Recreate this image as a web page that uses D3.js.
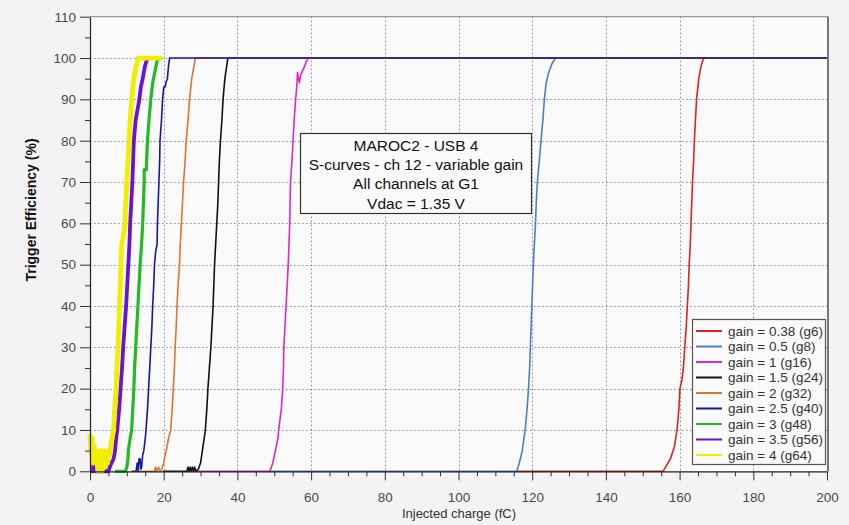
<!DOCTYPE html>
<html>
<head>
<meta charset="utf-8">
<script src="https://cdn.jsdelivr.net/npm/d3@7"></script>
<style>
  html, body { margin: 0; padding: 0; background: #f3f3f3; }
  svg { display: block; }
</style>
</head>
<body>
<svg id="chart" width="849" height="525"></svg>
<script>
// S-curve data: [injected charge (fC), trigger efficiency (%)]
const g6 = [[115.5,0],[155.5,0],[156.2,1],[157.5,3],[158.6,6],[159.3,10],[159.8,15],[160.1,20],[160.6,22],[160.9,24],[161.1,26],[161.4,30],[161.8,35],[162.1,40],[162.4,45],[162.6,50],[162.9,55],[163.1,60],[163.3,65],[163.5,70],[163.8,75],[164.0,80],[164.3,85],[164.6,90],[165.2,95],[165.8,98],[166.5,100],[200,100]];
const g8 = [[49,0],[115.8,0],[116.5,2],[117.3,5],[118.1,10],[118.6,15],[119.0,20],[119.3,25],[119.5,30],[119.7,35],[119.9,40],[120.1,45],[120.3,50],[120.6,55],[120.9,60],[121.1,65],[121.4,70],[121.9,75],[122.4,80],[122.9,85],[123.3,90],[123.8,94],[124.3,96],[125.3,98.5],[126.3,100],[200,100]];
const g16 = [[29,0],[48.8,0],[49.2,1],[49.6,2],[50.3,5],[51.0,8],[51.2,10],[51.9,15],[52.3,20],[52.5,25],[52.6,30],[52.9,35],[53.2,40],[53.5,45],[53.8,50],[54.0,55],[54.2,60],[54.3,65],[54.4,70],[54.8,75],[55.1,80],[55.4,85],[55.8,90],[56.1,93],[56.3,96.5],[56.8,94],[57.2,96],[58.0,97.5],[58.6,99],[59.3,100],[200,100]];
const g24 = [[19.8,0],[26.3,0],[26.6,1],[26.9,0],[27.2,1],[27.5,0],[27.8,1],[28.1,0],[28.4,1],[28.7,0],[29.4,0.5],[30.0,2],[30.5,5],[31.0,8],[31.3,10],[31.7,15],[32.0,20],[32.4,25],[32.8,30],[33.1,35],[33.4,40],[33.6,45],[33.8,50],[34.1,55],[34.4,60],[34.7,65],[34.9,70],[35.1,75],[35.4,80],[35.8,85],[36.1,90],[36.6,95],[37.4,100],[200,100]];
const g32 = [[12.5,0],[17.5,0],[17.8,1],[18.1,0],[18.6,1],[19.0,0],[19.5,0.5],[20.0,2],[20.4,4],[20.7,5],[21.3,8],[21.9,10],[22.3,15],[22.6,20],[22.9,25],[23.1,30],[23.4,35],[23.6,40],[23.9,45],[24.3,50],[24.5,55],[24.8,60],[25.1,65],[25.4,70],[25.8,75],[26.1,80],[26.6,85],[27.0,90],[27.6,95],[28.6,100],[200,100]];
const g40 = [[11.3,0],[12.5,0],[12.8,2],[13.1,0],[13.3,3],[13.6,3],[13.8,0.5],[14.0,1],[14.3,4],[14.6,5],[15.0,8],[15.2,10],[15.6,15],[15.9,20],[16.2,25],[16.5,30],[16.8,35],[17.0,40],[17.3,45],[17.5,50],[17.8,53],[18.2,55],[18.3,60],[18.5,65],[18.7,70],[18.9,75],[19.0,80],[19.4,85],[19.7,90],[20.0,93],[20.4,93],[20.6,94],[21.0,95],[21.3,98],[21.6,100],[200,100]];
const g48 = [[6.8,0],[9.6,0],[10.0,1],[10.3,3],[10.4,5],[10.9,8],[11.3,10],[11.6,15],[11.9,20],[12.1,25],[12.4,30],[12.7,35],[13.0,40],[13.3,45],[13.6,50],[14.0,55],[14.3,60],[14.5,65],[14.7,70],[14.7,73],[15.3,73],[15.4,76],[15.6,80],[16.0,85],[16.5,90],[17.0,94],[17.7,97],[18.1,99],[18.6,100],[19.5,100]];
const g56 = [[0,0],[0.8,0],[0.9,2],[1.3,2],[1.4,0],[4.5,0],[4.7,1],[5.0,0],[5.4,1],[5.8,2],[6.4,3],[6.8,5],[7.1,8],[7.4,10],[7.9,15],[8.3,20],[8.7,25],[9.0,30],[9.4,35],[9.8,40],[10.1,45],[10.4,50],[10.7,55],[10.9,60],[11.2,65],[11.5,70],[11.7,75],[11.9,80],[12.4,85],[13.4,90],[13.8,93],[14.3,95],[14.9,98],[15.6,100],[18.5,100]];
const g64 = [[0,9],[0.3,4],[0.6,8],[0.9,2],[1.2,6],[1.5,3],[1.8,5],[2.1,0],[2.4,4],[2.7,1],[3.0,5],[3.3,0],[3.6,3],[3.9,5],[4.2,1],[4.5,4],[4.8,2],[5.1,5],[5.4,4],[5.7,7],[6.0,8],[6.4,10],[6.7,15],[7.1,20],[7.3,25],[7.6,30],[7.8,35],[8.0,40],[8.2,45],[8.4,50],[8.6,55],[9.1,57],[9.5,60],[9.7,65],[10.0,70],[10.3,75],[10.6,80],[10.9,85],[11.3,90],[11.9,95],[12.5,98],[13.1,100],[19.5,100]];

const seriesLabels = ['gain = 0.38 (g6)', 'gain = 0.5 (g8)', 'gain = 1 (g16)', 'gain = 1.5 (g24)', 'gain = 2 (g32)',
  'gain = 2.5 (g40)', 'gain = 3 (g48)', 'gain = 3.5 (g56)', 'gain = 4 (g64)'];
const seriesData = [g6, g8, g16, g24, g32, g40, g48, g56, g64];
const xTicks = [0, 20, 40, 60, 80, 100, 120, 140, 160, 180, 200];
const yTicks = [0, 10, 20, 30, 40, 50, 60, 70, 80, 90, 100, 110];
const infoLines = ['MAROC2 - USB 4', 'S-curves - ch 12 - variable gain', 'All channels at G1', 'Vdac = 1.35 V'];

// styles
const colors = ['#dc2323', '#4f7dc9', '#dd28c6', '#111111', '#e0742e', '#1418a0', '#22bb22', '#6c12d2', '#f2ee00'];
const widths = [1.6, 1.6, 1.6, 1.6, 1.6, 1.6, 3.2, 3.8, 4.8];
const font = '"Liberation Sans", Arial, sans-serif';

const svg = d3.select('#chart');
const plotLeft = 90, plotRight = 827, plotTop = 16.7, plotBottom = 471.3;

const x = d3.scaleLinear().domain([0, 200]).range([plotLeft, plotRight]);
const y = d3.scaleLinear().domain([0, 110]).range([plotBottom, plotTop]);

// plot background
svg.append('rect')
  .attr('x', plotLeft).attr('y', plotTop)
  .attr('width', plotRight + 1 - plotLeft).attr('height', plotBottom - plotTop)
  .attr('fill', '#fafafa');

// dotted grid
const grid = svg.append('g').attr('stroke', '#7b87a6').attr('stroke-dasharray', '1.5,2.5').attr('stroke-width', 1);
grid.selectAll('.gx').data(xTicks.filter(d => d > 0 && d < 200)).enter().append('line')
  .attr('x1', d => Math.round(x(d)) + 0.5).attr('x2', d => Math.round(x(d)) + 0.5)
  .attr('y1', plotTop).attr('y2', plotBottom);
grid.selectAll('.gy').data(yTicks.filter(d => d > 0 && d < 110)).enter().append('line')
  .attr('x1', plotLeft).attr('x2', plotRight)
  .attr('y1', d => Math.round(y(d)) + 0.5).attr('y2', d => Math.round(y(d)) + 0.5);

// frame: top grey, right dark
svg.append('line').attr('x1', plotLeft).attr('x2', plotRight + 1).attr('y1', plotTop).attr('y2', plotTop)
  .attr('stroke', '#9a9a9a').attr('stroke-width', 1.2);
svg.append('line').attr('x1', plotRight + 1).attr('x2', plotRight + 1).attr('y1', plotTop).attr('y2', plotBottom)
  .attr('stroke', '#222').attr('stroke-width', 1.2);

// curves
const line = d3.line().x(d => x(d[0])).y(d => y(d[1]));
seriesData.forEach((s, i) => {
  svg.append('path')
    .datum(s)
    .attr('fill', 'none')
    .attr('stroke', colors[i])
    .attr('stroke-width', widths[i])
    .attr('stroke-linejoin', 'round')
    .attr('d', line);
});

// axes
function styleAxis(g) {
  g.select('.domain').attr('stroke', '#222').attr('stroke-width', 1.2);
  g.selectAll('.tick line').attr('stroke', '#333');
  g.selectAll('text').attr('font-family', font).attr('font-size', '13.5px').attr('fill', '#4a4a4a');
}

svg.append('g')
  .attr('transform', `translate(${plotLeft},0)`)
  .call(d3.axisLeft(y).tickValues(yTicks).tickSize(10).tickPadding(4).tickSizeOuter(0))
  .call(styleAxis);
svg.append('g')
  .attr('transform', `translate(${plotLeft},0)`)
  .call(d3.axisLeft(y).tickValues(d3.range(5, 110, 10)).tickSize(5).tickFormat(''))
  .call(g => g.select('.domain').remove())
  .call(g => g.selectAll('.tick line').attr('stroke', '#333'));

svg.append('g')
  .attr('transform', `translate(0,${plotBottom})`)
  .call(d3.axisBottom(x).tickValues(xTicks).tickSize(9).tickPadding(12).tickSizeOuter(0))
  .call(styleAxis);
svg.append('g')
  .attr('transform', `translate(0,${plotBottom})`)
  .call(d3.axisBottom(x).tickValues(d3.range(5, 200, 5).filter(d => d % 20 !== 0)).tickSize(5).tickFormat(''))
  .call(g => g.select('.domain').remove())
  .call(g => g.selectAll('.tick line').attr('stroke', '#333'));

// axis titles
svg.append('text')
  .attr('transform', 'translate(36,210) rotate(-90)')
  .attr('text-anchor', 'middle')
  .attr('font-family', font).attr('font-size', '14px').attr('font-weight', 'bold')
  .attr('fill', '#111')
  .text('Trigger Efficiency (%)');

svg.append('text')
  .attr('x', 459).attr('y', 518)
  .attr('text-anchor', 'middle')
  .attr('font-family', font).attr('font-size', '13px')
  .attr('fill', '#333')
  .text('Injected charge (fC)');

// info box
const info = svg.append('g');
info.append('rect')
  .attr('x', 300.5).attr('y', 133.5).attr('width', 231).attr('height', 80)
  .attr('fill', '#fafafa').attr('stroke', '#333').attr('stroke-width', 1.2);
info.selectAll('text').data(infoLines).enter().append('text')
  .attr('x', 416).attr('y', (d, i) => 150.5 + i * 19.4)
  .attr('text-anchor', 'middle')
  .attr('font-family', font).attr('font-size', '15.5px')
  .attr('fill', '#111')
  .text(d => d);

// legend
const legend = svg.append('g');
legend.append('rect')
  .attr('x', 692.5).attr('y', 319.5).attr('width', 133).attr('height', 145)
  .attr('fill', '#fafafa').attr('stroke', '#555').attr('stroke-width', 1.2);
const item = legend.selectAll('.item').data(seriesLabels).enter().append('g')
  .attr('transform', (d, i) => `translate(0,${331 + i * 15.5})`);
item.append('line')
  .attr('x1', 696).attr('x2', 722).attr('y1', 0).attr('y2', 0)
  .attr('stroke', (d, i) => colors[i]).attr('stroke-width', 2);
item.append('text')
  .attr('x', 728).attr('y', 4.8)
  .attr('font-family', font).attr('font-size', '13.5px')
  .attr('fill', '#333')
  .text(d => d);
</script>
</body>
</html>
